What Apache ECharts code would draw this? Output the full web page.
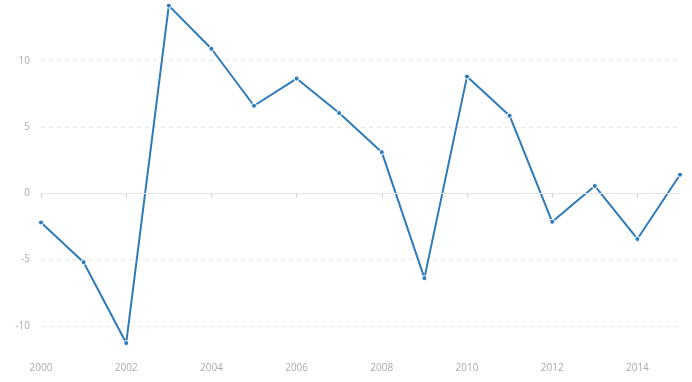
<!DOCTYPE html>
<html><head><meta charset="utf-8">
<script src="https://cdn.jsdelivr.net/npm/echarts@6/dist/echarts.min.js"></script>
<style>html,body{margin:0;padding:0;background:#fff}#c{width:692px;height:382px}</style>
</head><body><div id="c"></div>
<script>
const years = ['2000','2001','2002','2003','2004','2005','2006','2007','2008','2009','2010','2011','2012','2013','2014','2015'];
const values = [-2.2, -5.2, -11.3, 14.15, 10.9, 6.6, 8.65, 6.05, 3.1, -6.4, 8.8, 5.85, -2.15, 0.55, -3.45, 1.4];
const yMin = -12.2, yMax = 14.2;

const chart = echarts.init(document.getElementById('c'));
chart.setOption({
  animation: false,
  grid: {left: 41, right: 12, top: 5, bottom: 27},
  xAxis: {
    type: 'category', data: years, boundaryGap: false,
    axisLine: {show: false},
    axisTick: {show: true, interval: 1, length: 4, lineStyle: {color: '#ccc'}},
    axisLabel: {interval: 1, color: '#aaa', fontSize: 10, fontFamily: 'Open Sans', margin: 8}
  },
  yAxis: {
    type: 'value', min: yMin, max: yMax,
    axisLine: {show: false}, axisTick: {show: false},
    axisLabel: {color: '#aaa', fontSize: 10, fontFamily: 'Open Sans', margin: 11, showMinLabel: false, showMaxLabel: false},
    splitLine: {show: true, lineStyle: {type: [4, 4], color: ['transparent', '#e6e6e6', '#e6e6e6', 'transparent', '#e6e6e6', '#e6e6e6', 'transparent'], width: 1}}
  },
  series: [{
    type: 'line', data: values,
    lineStyle: {color: '#2f7ab8', width: 2},
    itemStyle: {color: '#2f7ab8', borderColor: '#fff', borderWidth: 1},
    symbol: 'circle', symbolSize: 5, showSymbol: true,
    markLine: {silent: true, symbol: 'none', label: {show: false},
      lineStyle: {color: '#e3e3e3', type: 'solid', width: 1},
      data: [{yAxis: 0}]}
  }]
});
</script></body></html>
